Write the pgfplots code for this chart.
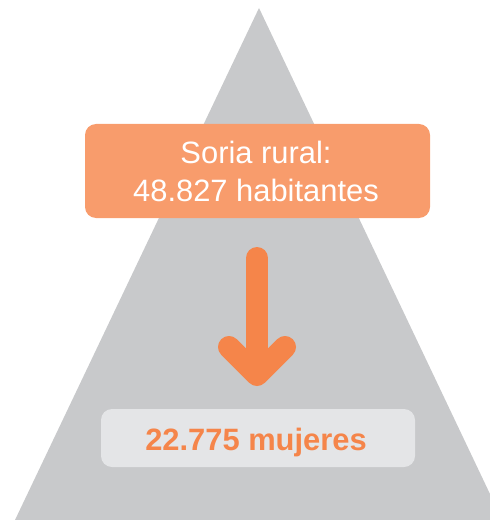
\documentclass[border=0pt]{standalone}
\usepackage{pgfplots}
\pgfplotsset{compat=1.18}
\usepackage{fontspec}
\setmainfont{Liberation Sans}
\definecolor{trigray}{RGB}{200,201,203}
\definecolor{boxorange}{RGB}{248,156,108}
\definecolor{arroworange}{RGB}{245,133,74}
\definecolor{boxgray}{RGB}{228,229,231}

\begin{document}
\begin{tikzpicture}
\begin{axis}[
    width=490bp, height=520bp,
    scale only axis,
    xmin=0, xmax=490, ymin=0, ymax=520,
    y dir=reverse,
    hide axis,
]
% pyramid (cut at the right edge)
\addplot[fill=trigray, draw=none]
    coordinates {(15,520) (259,8) (490,494) (490,520)} -- cycle;
% total box
\addplot[fill=boxorange, draw=none, rounded corners=11bp]
    coordinates {(85,124) (430,124) (430,218) (85,218)} -- cycle;
% arrow
\addplot[arroworange, line width=22bp, line cap=round] coordinates {(257,258) (257,372)};
\addplot[arroworange, line width=22bp, line cap=round, line join=round]
    coordinates {(229,347) (257,375) (285,347)};
% women box
\addplot[fill=boxgray, draw=none, rounded corners=11bp]
    coordinates {(101,409) (415,409) (415,467) (101,467)} -- cycle;

\node[anchor=base, text=white, font=\fontsize{31}{37}\selectfont]
    at (axis cs:256,164) {Soria rural:};
\node[anchor=base, text=white, font=\fontsize{31}{37}\selectfont]
    at (axis cs:256,202) {48.827 habitantes};
\node[anchor=base, text=arroworange, font=\fontsize{31}{37}\selectfont\bfseries]
    at (axis cs:256,450) {22.775 mujeres};
\end{axis}
\pgfresetboundingbox
\useasboundingbox (current axis.south west) rectangle (current axis.north east);
\end{tikzpicture}
\end{document}
